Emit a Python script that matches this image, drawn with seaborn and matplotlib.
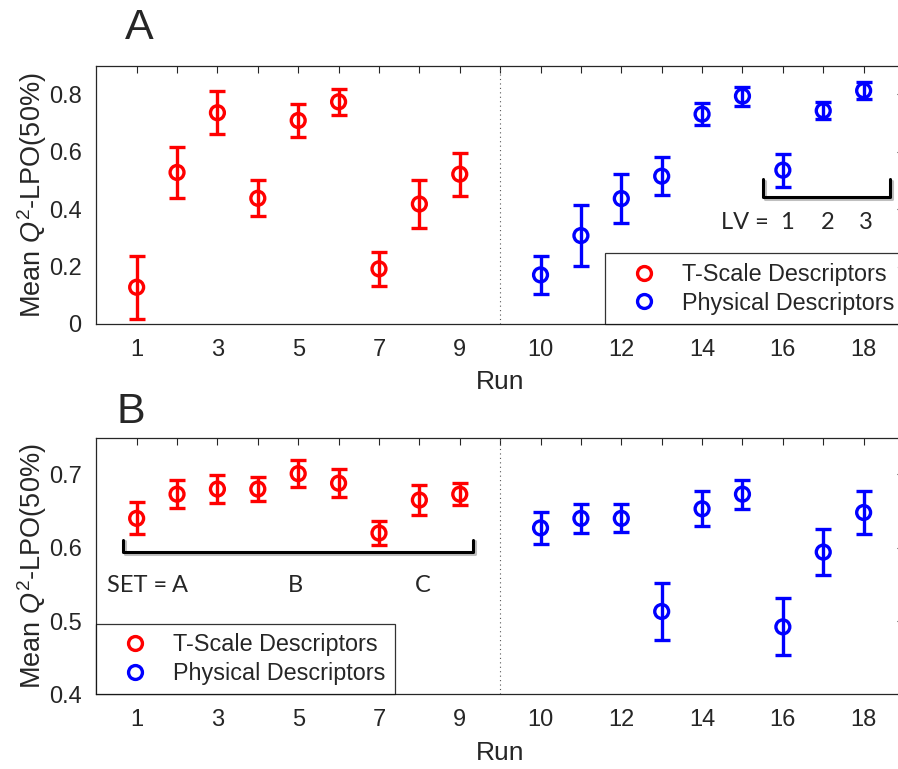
import matplotlib
matplotlib.use("Agg")
import matplotlib.pyplot as plt
import matplotlib.patheffects as pe
from matplotlib.lines import Line2D
import seaborn as sns
import pandas as pd

sns.set_style("white")
plt.rcParams["font.family"] = ["Liberation Sans", "DejaVu Sans"]
plt.rcParams["mathtext.fontset"] = "custom"
plt.rcParams["mathtext.rm"] = "Liberation Sans"
plt.rcParams["mathtext.it"] = "Liberation Sans:italic"

# run numbers and descriptor groups
runs = list(range(1, 19))
groups = ["T-Scale Descriptors"] * 9 + ["Physical Descriptors"] * 9

# panel A: mean Q2-LPO(50%) and error
mean_a = [0.128, 0.528, 0.736, 0.438, 0.709, 0.774, 0.192, 0.418, 0.522,
          0.171, 0.308, 0.437, 0.515, 0.731, 0.794, 0.536, 0.743, 0.813]
err_a = [0.110, 0.090, 0.075, 0.063, 0.056, 0.046, 0.060, 0.083, 0.075,
         0.067, 0.106, 0.085, 0.067, 0.039, 0.033, 0.057, 0.029, 0.030]

# panel B
mean_b = [0.640, 0.673, 0.680, 0.680, 0.701, 0.688, 0.620, 0.665, 0.673,
          0.627, 0.640, 0.640, 0.513, 0.653, 0.673, 0.492, 0.594, 0.648]
err_b = [0.022, 0.019, 0.019, 0.016, 0.018, 0.019, 0.017, 0.020, 0.015,
         0.022, 0.020, 0.019, 0.039, 0.024, 0.020, 0.039, 0.031, 0.030]

tick_labels = ["1", "", "3", "", "5", "", "7", "", "9", "",
               "10", "", "12", "", "14", "", "16", "", "18"]

palette = {"T-Scale Descriptors": (1, 0, 0), "Physical Descriptors": (0, 0, 1)}
dark = "#262626"

df = pd.DataFrame({"run": runs, "group": groups,
                   "mean_a": mean_a, "err_a": err_a,
                   "mean_b": mean_b, "err_b": err_b})
# leave a gap between the two descriptor sets
df["pos"] = df["run"] + (df["run"] > 9).astype(int)

fig = plt.figure(figsize=(8.98, 7.69), dpi=100)
ax_a = fig.add_axes([0.1072, 0.5787, 0.8995, 0.3359])
ax_b = fig.add_axes([0.1072, 0.0971, 0.8995, 0.3337])


def draw_panel(ax, ycol, ecol, ylim, yticks, ylabels):
    for g, sub in df.groupby("group", sort=False):
        ax.errorbar(sub["pos"], sub[ycol], yerr=sub[ecol], fmt="none",
                    ecolor=palette[g], elinewidth=2.4, capsize=5.6,
                    capthick=2.4, zorder=3)
    sns.scatterplot(data=df, x="pos", y=ycol, hue="group", palette=palette,
                    s=100, ax=ax, legend=False, zorder=4)
    pts = ax.collections[-1]
    pts.set_edgecolors(pts.get_facecolors())
    pts.set_facecolors("none")
    pts.set_linewidths(2.4)

    ax.axvline(10, color="#555555", lw=0.8, ls=(0, (1, 3)), zorder=1)
    ax.set_xlim(0, 20)
    ax.set_ylim(*ylim)
    ax.set_xticks(range(1, 20))
    ax.set_xticklabels(tick_labels)
    ax.set_yticks(yticks)
    ax.set_yticklabels(ylabels)
    ax.tick_params(direction="in", length=5, width=0.8, color=dark,
                   labelsize=17, labelcolor=dark, pad=10.5,
                   top=True, right=True)
    for sp in ax.spines.values():
        sp.set_color(dark)
        sp.set_linewidth(0.9)
    ax.set_xlabel("Run", fontsize=19, color=dark, labelpad=7)
    ax.set_ylabel(r"Mean $\mathit{Q}^2$-LPO(50%)", fontsize=19.5, color=dark)
    ax.yaxis.set_label_coords(-0.059, 0.5)

    handles = [Line2D([], [], ls="none", marker="o", ms=10, mfc="none",
                      mec=c, mew=2.4) for c in palette.values()]
    return handles


shadow = [pe.SimpleLineShadow(offset=(1.2, -1.2), shadow_color="gray",
                              alpha=0.5), pe.Normal()]
leg_kw = dict(borderaxespad=0, fontsize=16.8, frameon=True, fancybox=False,
              edgecolor="black", handlelength=2.5, handletextpad=0.4,
              labelspacing=0.25, borderpad=0.4)

# panel A
h = draw_panel(ax_a, "mean_a", "err_a", (0, 0.9),
               [0, 0.2, 0.4, 0.6, 0.8], ["0", "0.2", "0.4", "0.6", "0.8"])
ax_a.legend(h, list(palette.keys()), loc="lower right",
            bbox_to_anchor=(1, 0), **leg_kw).get_frame().set_linewidth(0.9)
ax_a.plot([16.51, 16.51, 19.66, 19.66], [0.504, 0.443, 0.443, 0.504],
          color="black", lw=2.2, solid_joinstyle="round",
          path_effects=shadow, zorder=2)
ax_a.text(15.48, 0.352, "LV =", fontsize=17, family="Lato",
          ha="left", va="center")
for x, s in zip([17.1, 18.1, 19.05], ["1", "2", "3"]):
    ax_a.text(x, 0.352, s, fontsize=17, family="Lato", ha="center", va="center")

# panel B
h = draw_panel(ax_b, "mean_b", "err_b", (0.4, 0.75),
               [0.4, 0.5, 0.6, 0.7], ["0.4", "0.5", "0.6", "0.7"])
ax_b.legend(h, list(palette.keys()), loc="lower left",
            bbox_to_anchor=(0, 0), **leg_kw).get_frame().set_linewidth(0.9)
ax_b.plot([0.67, 0.67, 9.33, 9.33], [0.611, 0.594, 0.594, 0.611],
          color="black", lw=2.2, solid_joinstyle="round",
          path_effects=shadow, zorder=2)
ax_b.text(0.26, 0.549, "SET =", fontsize=17, family="Lato",
          ha="left", va="center")
for x, s in zip([2.07, 4.92, 8.08], ["A", "B", "C"]):
    ax_b.text(x, 0.549, s, fontsize=17, family="Lato", ha="center", va="center")

fig.text(124.5 / 898, 1 - 39.3 / 769, "A", fontsize=31, va="baseline")
fig.text(116.5 / 898, 1 - 423.3 / 769, "B", fontsize=31, va="baseline")

fig.savefig("out.png", dpi=100)
